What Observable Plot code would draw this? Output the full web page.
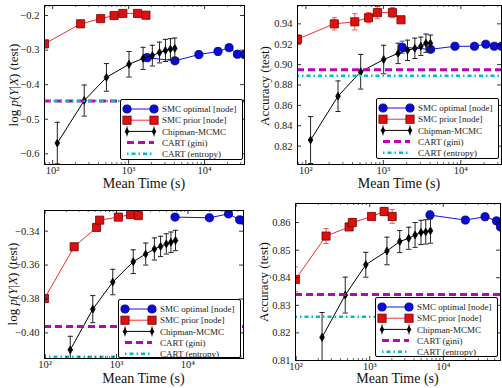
<!DOCTYPE html>
<html><head><meta charset="utf-8">
<script src="https://cdn.jsdelivr.net/npm/d3@7"></script>
<script src="https://cdn.jsdelivr.net/npm/@observablehq/plot@0.6"></script>
<style>
body{margin:0;background:#fff;}
#wrap{position:relative;width:502px;height:388px;overflow:hidden;font-family:'Liberation Serif','DejaVu Serif',serif;color:#000}
.cell{position:absolute}
.title{position:absolute;white-space:nowrap;transform:translate(-50%,-50%);font-size:14px;line-height:1;color:#111}
.ytitle{position:absolute;white-space:nowrap;transform:translate(-50%,-50%) rotate(-90deg);font-size:13px;line-height:1;color:#111}
.legend{position:absolute;background:#fff;border:1px solid #000;border-radius:2px;box-sizing:border-box}
.legend svg{overflow:visible}
</style></head>
<body><div id="wrap"></div>
<script>
// ---------- data: experiment A (top row) ----------
const topOptTime   = [1750, 4070, 8400, 15000, 21000, 27000, 33500];
const topPriorTime = [78, 233, 428, 643, 838, 1310, 1690];
const topChipTime  = [115, 260, 510, 1010, 1550, 2050, 2550, 3050, 3550, 4050];

const llA_opt      = [-0.322, -0.331, -0.313, -0.304, -0.293, -0.312, -0.313];
const llA_optErr   = [0.010, 0.008, 0.010, 0.010, 0.008, 0.010, 0.010];
const llA_prior    = [-0.282, -0.224, -0.209, -0.200, -0.194, -0.194, -0.199];
const llA_priorErr = [0.004, 0.010, 0.006, 0.007, 0.008, 0.006, 0.004];
const llA_chip     = [-0.569, -0.446, -0.379, -0.341, -0.324, -0.316, -0.307, -0.301, -0.297, -0.295];
const llA_chipErr  = [0.060, 0.045, 0.040, 0.037, 0.032, 0.030, 0.030, 0.032, 0.030, 0.030];
const llA_gini = -0.447, llA_entropy = -0.447;

const accA_opt      = [0.917, 0.915, 0.918, 0.918, 0.920, 0.918, 0.918];
const accA_optErr   = [0.006, 0.002, 0.003, 0.003, 0.001, 0.002, 0.002];
const accA_prior    = [0.925, 0.940, 0.942, 0.946, 0.951, 0.951, 0.944];
const accA_priorErr = [0.004, 0.006, 0.008, 0.005, 0.006, 0.005, 0.002];
const accA_chip     = [0.826, 0.869, 0.893, 0.905, 0.911, 0.914, 0.916, 0.918, 0.921, 0.921];
const accA_chipErr  = [0.023, 0.015, 0.017, 0.014, 0.010, 0.010, 0.010, 0.009, 0.009, 0.008];
const accA_gini = 0.895, accA_entropy = 0.889;

// ---------- data: experiment B (bottom row) ----------
const botOptTime   = [6600, 20000, 37000, 53000, 60000];
const botPriorTime = [98, 255, 525, 580, 1060, 1570, 2020];
const botChipTime  = [225, 465, 885, 1715, 2560, 3390, 4140, 4980, 5780, 6700];

const llB_opt      = [-0.3317, -0.3321, -0.3298, -0.3333, -0.3336];
const llB_optErr   = [0.001, 0.001, 0.001, 0.001, 0.001];
const llB_prior    = [-0.3797, -0.3492, -0.3378, -0.3335, -0.3317, -0.3302, -0.3308];
const llB_priorErr = [0.001, 0.0015, 0.0015, 0.001, 0.001, 0.001, 0.0015];
const llB_chip     = [-0.410, -0.386, -0.370, -0.358, -0.3535, -0.3505, -0.349, -0.3475, -0.3465, -0.3455];
const llB_chipErr  = [0.008, 0.008, 0.0075, 0.007, 0.0065, 0.0065, 0.006, 0.006, 0.006, 0.006];
const llB_gini = -0.3962, llB_entropy = -0.4141;

const accB_opt      = [0.8627, 0.8609, 0.8621, 0.8606, 0.8584];
const accB_optErr   = [0.0015, 0.0012, 0.0012, 0.0012, 0.0012];
const accB_prior    = [0.8394, 0.8551, 0.8584, 0.8600, 0.8622, 0.8640, 0.8622];
const accB_priorErr = [0.0045, 0.0027, 0.0010, 0.0015, 0.0010, 0.0015, 0.0025];
const accB_chip     = [0.8184, 0.8337, 0.8447, 0.8497, 0.8531, 0.8543, 0.8555, 0.8564, 0.8566, 0.8570];
const accB_chipErr  = [0.0090, 0.0065, 0.0045, 0.0050, 0.0040, 0.0040, 0.0045, 0.0044, 0.0044, 0.0045];
const accB_gini = 0.8339, accB_entropy = 0.8259;

// ---------- ticks / labels ----------
const xMajorTicks = [100, 1000, 10000];
const xMajorLabels = ["10\u00B2", "10\u00B3", "10\u2074"];
const llA_ticks  = [-0.6, -0.5, -0.4, -0.3, -0.2];
const accA_ticks = [0.82, 0.84, 0.86, 0.88, 0.90, 0.92, 0.94];
const llB_ticks  = [-0.40, -0.38, -0.36, -0.34];
const accB_ticks = [0.81, 0.82, 0.83, 0.84, 0.85, 0.86];
const legendLabels = ["SMC optimal [node]", "SMC prior [node]", "Chipman-MCMC", "CART (gini)", "CART (entropy)"];
const xTitle = "Mean Time (s)";
const yTitleLL = "log <i>p</i>(<i>Y</i>|<i>X</i>) (test)";
const yTitleAcc = "Accuracy (test)";

// ---------- styles ----------
const FONT = "'Liberation Serif','DejaVu Serif',serif";
const S = {
  opt:   {line: "#1010f0", err: "#4060ff", fill: "#0a0ad8", stroke: "#00007a", sym: "circle", r: 4.1},
  prior: {line: "#f03030", err: "#ff5050", fill: "#dd1010", stroke: "#7a0000", sym: "square", r: 4.6},
  chip:  {line: "#000000", err: "#222222", fill: "#000000", stroke: "#000000", sym: null, r: 3.9}
};
const GINI = "#bf00bf", ENTROPY = "#00bfbf";

const capSym = {draw(ctx, size) { const w = Math.sqrt(size / Math.PI); ctx.moveTo(-w, 0); ctx.lineTo(w, 0); }};
const thinDiamond = {draw(ctx, size) { const r = Math.sqrt(size / Math.PI); ctx.moveTo(0, -r); ctx.lineTo(r * 0.6, 0); ctx.lineTo(0, r); ctx.lineTo(-r * 0.6, 0); ctx.closePath(); }};
S.chip.sym = thinDiamond;

const rows = (t, v, e) => t.map((x, i) => ({t: x, v: v[i], e: e[i]}));
const minus = s => s.replace("-", "\u2212");

function makePanel(cfg) {
  const W = 251, H = 194;
  const {ml, mr, mt, mb, xDomain, yDomain, yTicks, yDigits} = cfg;
  const innerW = W - ml - mr, innerH = H - mt - mb;
  const minor = [];
  for (let k = 1; k <= 4; k++) for (let m = 2; m <= 9; m++) {
    const v = m * Math.pow(10, k);
    if (v > xDomain[0] && v < xDomain[1]) minor.push(v);
  }
  const majors = xMajorTicks.filter(v => v >= xDomain[0] && v <= xDomain[1]);
  const marks = [];
  for (const key of ["opt", "prior", "chip"]) {
    const st = S[key], d = cfg.series[key];
    marks.push(
      Plot.ruleX(d, {x: "t", y1: r => r.v - r.e, y2: r => r.v + r.e, stroke: st.err, strokeWidth: 1, clip: true}),
      Plot.dot(d, {x: "t", y: r => r.v + r.e, symbol: capSym, r: 2.6, stroke: st.err, fill: "none", strokeWidth: 1, clip: true}),
      Plot.dot(d, {x: "t", y: r => r.v - r.e, symbol: capSym, r: 2.6, stroke: st.err, fill: "none", strokeWidth: 1, clip: true}),
      Plot.line(d, {x: "t", y: "v", stroke: st.line, strokeWidth: 1, clip: true}),
      Plot.dot(d, {x: "t", y: "v", symbol: st.sym, r: st.r, fill: st.fill, stroke: st.stroke, strokeWidth: 0.8, clip: true})
    );
  }
  marks.push(
    Plot.ruleY([cfg.gini], {y: d => d, stroke: GINI, strokeWidth: 3, strokeDasharray: "7,4"}),
    Plot.ruleY([cfg.entropy], {y: d => d, stroke: ENTROPY, strokeWidth: 2.5, strokeDasharray: "4,3,1.5,3", strokeDashoffset: 2}),
    Plot.ruleX(majors, {x: d => d, insetTop: innerH - 4, stroke: "#000", strokeWidth: 0.8}),
    Plot.ruleX(majors, {x: d => d, insetBottom: innerH - 4, stroke: "#000", strokeWidth: 0.8}),
    Plot.ruleX(minor, {x: d => d, insetTop: innerH - 2, stroke: "#000", strokeWidth: 0.6}),
    Plot.ruleX(minor, {x: d => d, insetBottom: innerH - 2, stroke: "#000", strokeWidth: 0.6}),
    Plot.ruleY(yTicks, {y: d => d, insetRight: innerW - 4, stroke: "#000", strokeWidth: 0.8}),
    Plot.ruleY(yTicks, {y: d => d, insetLeft: innerW - 4, stroke: "#000", strokeWidth: 0.8}),
    Plot.text(majors, {x: d => d, text: d => xMajorLabels[xMajorTicks.indexOf(d)], frameAnchor: "bottom", dy: 9, fontSize: 10.5, fill: "#222"}),
    Plot.text(yTicks, {y: d => d, text: d => minus(d.toFixed(yDigits)), frameAnchor: "left", textAnchor: "end", dx: -5, fontSize: 10.5, fill: "#222"}),
    Plot.frame({stroke: "#000", strokeWidth: 1})
  );
  return Plot.plot({
    width: W, height: H,
    marginLeft: ml, marginRight: mr, marginTop: mt, marginBottom: mb,
    style: {fontFamily: FONT, fontSize: "10.5px", background: "transparent", overflow: "visible"},
    x: {type: "log", domain: xDomain, axis: null},
    y: {domain: yDomain, axis: null},
    marks
  });
}

function legendSVG(w, h) {
  const ys = [9, 20.2, 31.4, 42.6, 53.8];
  const x0 = 6, x1 = 33, tx = 41;
  const sq = (x, y) => `<rect x="${x - 4.1}" y="${y - 4.1}" width="8.2" height="8.2" fill="${S.prior.fill}" stroke="${S.prior.stroke}" stroke-width="0.8"/>`;
  const ci = (x, y) => `<circle cx="${x}" cy="${y}" r="4.1" fill="${S.opt.fill}" stroke="${S.opt.stroke}" stroke-width="0.8"/>`;
  const di = (x, y) => `<line x1="${x}" x2="${x}" y1="${y - 5}" y2="${y + 5}" stroke="#222" stroke-width="1"/><path d="M${x},${y - 3.9}L${x + 2.34},${y}L${x},${y + 3.9}L${x - 2.34},${y}Z" fill="#000"/>`;
  let s = `<svg width="${w}" height="${h}" style="position:absolute;left:0;top:0;font-family:Liberation Serif,DejaVu Serif,serif;font-size:9px">`;
  s += `<line x1="${x0}" x2="${x1}" y1="${ys[0]}" y2="${ys[0]}" stroke="${S.opt.line}"/>` + ci(x0, ys[0]) + ci(x1, ys[0]);
  s += `<line x1="${x0}" x2="${x1}" y1="${ys[1]}" y2="${ys[1]}" stroke="${S.prior.line}"/>` + sq(x0, ys[1]) + sq(x1, ys[1]);
  s += `<line x1="${x0}" x2="${x1}" y1="${ys[2]}" y2="${ys[2]}" stroke="#000"/>` + di(x0, ys[2]) + di(x1, ys[2]);
  s += `<line x1="${x0}" x2="${x1}" y1="${ys[3]}" y2="${ys[3]}" stroke="${GINI}" stroke-width="3" stroke-dasharray="7,4"/>`;
  s += `<line x1="${x0}" x2="${x1}" y1="${ys[4]}" y2="${ys[4]}" stroke="${ENTROPY}" stroke-width="2.5" stroke-dasharray="1.5,3,4,3"/>`;
  legendLabels.forEach((l, i) => { s += `<text x="${tx}" y="${ys[i]}" dy="0.35em" fill="#222">${l}</text>`; });
  s += `</svg>`;
  return s;
}

const panels = [
  {left: 0, top: 0, ml: 44, mr: 7, mt: 5, mb: 30, xDomain: [78, 33500], yDomain: [-0.631, -0.171], yTicks: llA_ticks, yDigits: 1,
   series: {opt: rows(topOptTime, llA_opt, llA_optErr), prior: rows(topPriorTime, llA_prior, llA_priorErr), chip: rows(topChipTime, llA_chip, llA_chipErr)},
   gini: llA_gini, entropy: llA_entropy, legend: [120, 99, 123, 61], ytitle: [yTitleLL, 13, 85], xtitle: [144, 184]},
  {left: 251, top: 0, ml: 46, mr: 1, mt: 5, mb: 30, xDomain: [78, 33500], yDomain: [0.802, 0.958], yTicks: accA_ticks, yDigits: 2,
   series: {opt: rows(topOptTime, accA_opt, accA_optErr), prior: rows(topPriorTime, accA_prior, accA_priorErr), chip: rows(topChipTime, accA_chip, accA_chipErr)},
   gini: accA_gini, entropy: accA_entropy, legend: [376, 98, 123, 61], ytitle: [yTitleAcc, 264, 86], xtitle: [399, 184]},
  {left: 0, top: 194, ml: 44, mr: 8, mt: 16, mb: 30, xDomain: [98, 60000], yDomain: [-0.4151, -0.3278], yTicks: llB_ticks, yDigits: 2,
   series: {opt: rows(botOptTime, llB_opt, llB_optErr), prior: rows(botPriorTime, llB_prior, llB_priorErr), chip: rows(botChipTime, llB_chip, llB_chipErr)},
   gini: llB_gini, entropy: llB_entropy, legend: [118, 299, 123, 59], ytitle: [yTitleLL, 12, 284], xtitle: [143.5, 379]},
  {left: 251, top: 194, ml: 44, mr: 2, mt: 9, mb: 28, xDomain: [98, 60000], yDomain: [0.81, 0.8669], yTicks: accB_ticks, yDigits: 2,
   series: {opt: rows(botOptTime, accB_opt, accB_optErr), prior: rows(botPriorTime, accB_prior, accB_priorErr), chip: rows(botChipTime, accB_chip, accB_chipErr)},
   gini: accB_gini, entropy: accB_entropy, legend: [375, 297, 123, 60], ytitle: [yTitleAcc, 263, 282], xtitle: [397.5, 379]}
];

const wrap = document.getElementById("wrap");
for (const p of panels) {
  const cell = document.createElement("div");
  cell.className = "cell";
  cell.style.left = p.left + "px"; cell.style.top = p.top + "px";
  cell.appendChild(makePanel(p));
  wrap.appendChild(cell);

  const lg = document.createElement("div");
  lg.className = "legend";
  const [lx, ly, lw, lh] = p.legend;
  lg.style.left = lx + "px"; lg.style.top = ly + "px"; lg.style.width = lw + "px"; lg.style.height = lh + "px";
  lg.innerHTML = legendSVG(lw - 2, lh - 2);
  wrap.appendChild(lg);

  const yt = document.createElement("div");
  yt.className = "ytitle";
  yt.innerHTML = p.ytitle[0];
  yt.style.left = p.ytitle[1] + "px"; yt.style.top = p.ytitle[2] + "px";
  wrap.appendChild(yt);

  const xt = document.createElement("div");
  xt.className = "title";
  xt.textContent = xTitle;
  xt.style.left = p.xtitle[0] + "px"; xt.style.top = p.xtitle[1] + "px";
  wrap.appendChild(xt);
}
</script>
</body></html>
